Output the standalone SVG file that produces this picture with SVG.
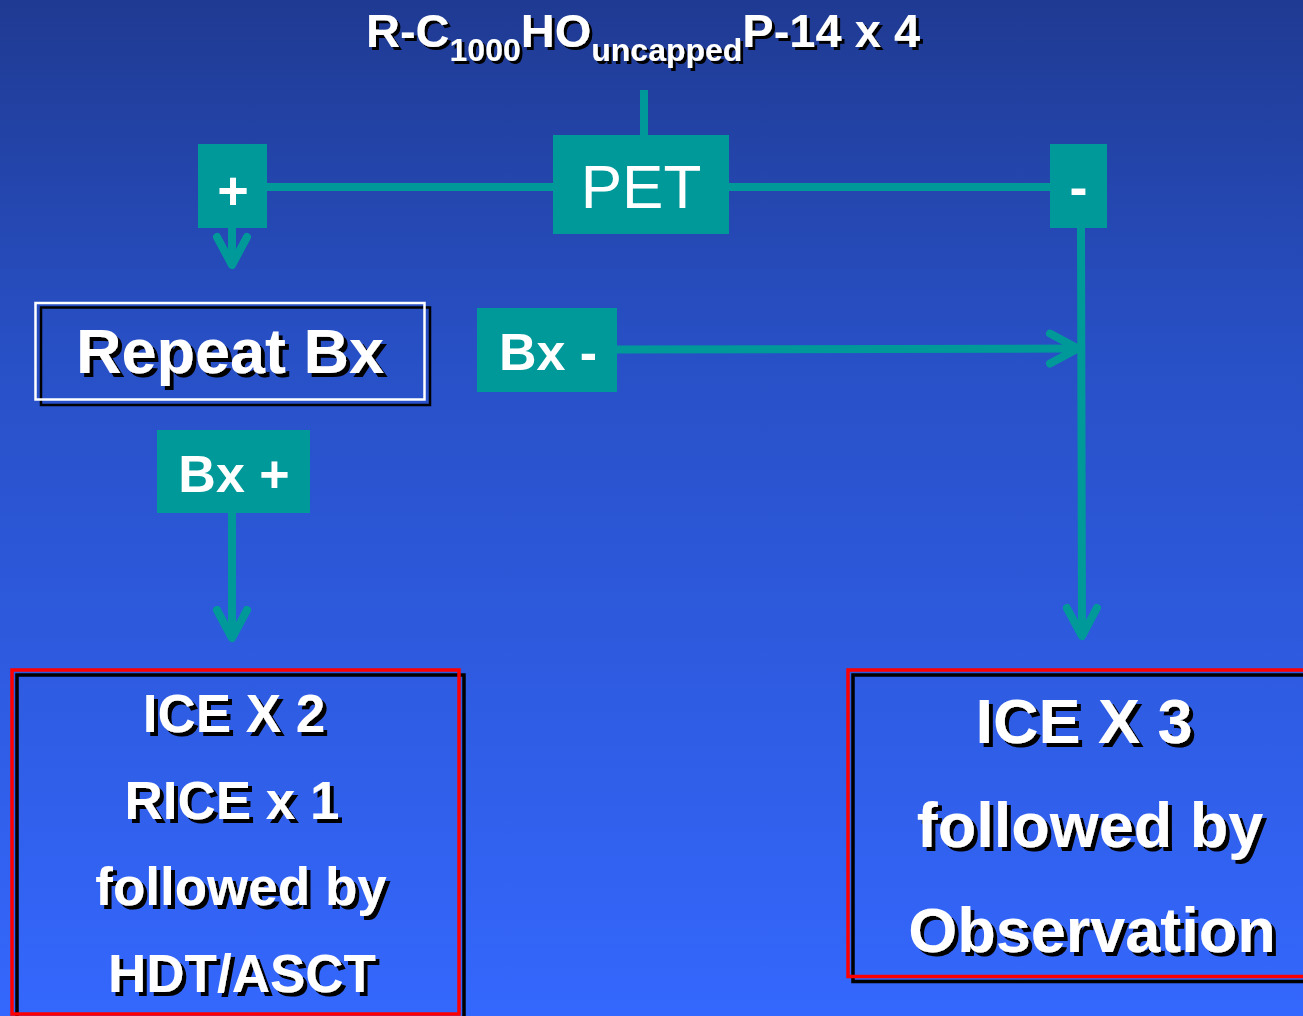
<svg xmlns="http://www.w3.org/2000/svg" width="1303" height="1016" viewBox="0 0 1303 1016">
<defs>
<linearGradient id="bg" x1="0" y1="0" x2="0" y2="1">
<stop offset="0" stop-color="#1f3a92"/>
<stop offset="0.35" stop-color="#2850c6"/>
<stop offset="1" stop-color="#3467fd"/>
</linearGradient>
<filter id="sh" x="-5%" y="-5%" width="115%" height="130%">
<feDropShadow dx="4" dy="4" stdDeviation="0" flood-color="#000" flood-opacity="1"/>
</filter>
<filter id="sh3" x="-5%" y="-5%" width="115%" height="130%">
<feDropShadow dx="3" dy="3" stdDeviation="0" flood-color="#000" flood-opacity="1"/>
</filter>
<marker id="arr" markerUnits="userSpaceOnUse" viewBox="-40 -22 48 44" markerWidth="48" markerHeight="44" refX="0" refY="0" orient="auto">
<path d="M-28,-15 L0,0 L-28,15" fill="none" stroke="#009999" stroke-width="8" stroke-linecap="round" stroke-linejoin="round"/>
</marker>
</defs>
<style>
.t{font-family:"Liberation Sans",Arial,sans-serif;fill:#fff}
.b{font-weight:bold}
.teal{fill:#009999}
.ln{stroke:#009999;stroke-width:8;fill:none}
.red{fill:none;stroke:#ff0000;stroke-width:3.5}
.blk{fill:none;stroke:#000;stroke-width:3.5}
</style>
<rect x="0" y="0" width="1303" height="1016" fill="url(#bg)"/>

<g id="title">
<text class="t b" x="366" y="47" font-size="47" filter="url(#sh3)">R-C<tspan font-size="32" dy="14">1000</tspan><tspan dy="-14">HO</tspan><tspan font-size="32" dy="14">uncapped</tspan><tspan dy="-14">P-14 x 4</tspan></text>
</g>

<g id="connectors">
<line class="ln" x1="644" y1="90" x2="644" y2="136" stroke-width="7"/>
<line class="ln" x1="266" y1="187" x2="554" y2="187"/>
<line class="ln" x1="728" y1="187" x2="1051" y2="187"/>
<line class="ln" x1="232" y1="227" x2="232" y2="265" marker-end="url(#arr)"/>
<line class="ln" x1="1081" y1="227" x2="1082" y2="636" marker-end="url(#arr)"/>
<line class="ln" x1="616" y1="349.5" x2="1078" y2="348.5" stroke-width="7" marker-end="url(#arr)"/>
<line class="ln" x1="232" y1="512" x2="232" y2="638" marker-end="url(#arr)"/>
</g>

<g id="pet">
<rect class="teal" x="553" y="135" width="176" height="99"/>
<text class="t" x="641" y="208" font-size="62" text-anchor="middle">PET</text>
</g>

<g id="plus">
<rect class="teal" x="198" y="144" width="69" height="84"/>
<text class="t b" x="233" y="209" font-size="54" text-anchor="middle">+</text>
</g>

<g id="minus">
<rect class="teal" x="1050" y="144" width="57" height="84"/>
<text class="t b" x="1078.5" y="206" font-size="54" text-anchor="middle">-</text>
</g>

<g id="repeat">
<rect x="41" y="307.5" width="389" height="97.5" fill="none" stroke="#000" stroke-width="2.5"/>
<rect x="35.5" y="303" width="389" height="96.5" fill="none" stroke="#fff" stroke-width="2.5"/>
<text class="t b" x="230" y="373" font-size="63" text-anchor="middle" filter="url(#sh)">Repeat Bx</text>
</g>

<g id="bxminus">
<rect class="teal" x="477" y="308" width="140" height="84"/>
<text class="t b" x="548" y="370" font-size="52" text-anchor="middle">Bx -</text>
</g>

<g id="bxplus">
<rect class="teal" x="157" y="430" width="153" height="83"/>
<text class="t b" x="234" y="492" font-size="52" text-anchor="middle">Bx +</text>
</g>

<g id="left-result">
<rect class="blk" x="17" y="675" width="447" height="344"/>
<rect class="red" x="12" y="670" width="447" height="344"/>
<g filter="url(#sh)">
<text class="t b" x="234" y="732" font-size="53" text-anchor="middle">ICE X 2</text>
<text class="t b" x="232" y="819" font-size="53" text-anchor="middle">RICE x 1</text>
<text class="t b" x="241" y="905" font-size="53" text-anchor="middle">followed by</text>
<text class="t b" x="242" y="992" font-size="53" text-anchor="middle">HDT/ASCT</text>
</g>
</g>

<g id="right-result">
<rect class="blk" x="853" y="675" width="470" height="306.5"/>
<rect class="red" x="848" y="670" width="470" height="306.5"/>
<g filter="url(#sh)">
<text class="t b" x="1084" y="743" font-size="63" text-anchor="middle">ICE X 3</text>
<text class="t b" x="1090" y="847" font-size="63" text-anchor="middle">followed by</text>
<text class="t b" x="1092" y="952" font-size="63" text-anchor="middle">Observation</text>
</g>
</g>
</svg>
